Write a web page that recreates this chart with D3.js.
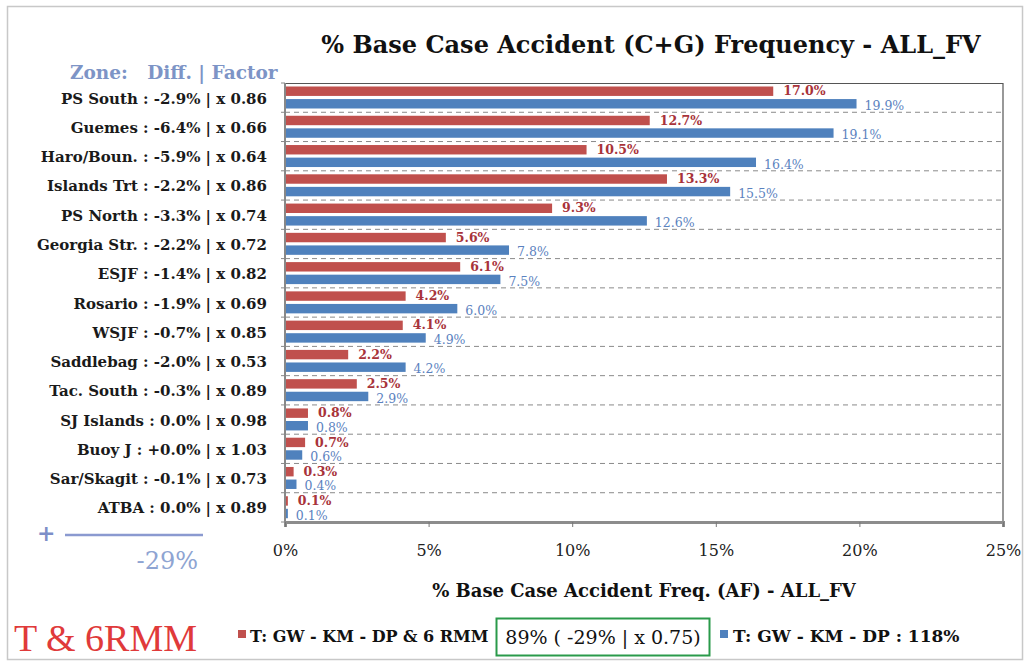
<!DOCTYPE html>
<meta charset="utf-8">
<style>
    body { margin: 0; background: #fff; }
    text { font-family: "DejaVu Serif", serif; }
</style>
<svg width="1030" height="664"></svg>
<script src="https://cdn.jsdelivr.net/npm/d3@7"></script>
<script>

    // zones, diffs and factors make up the row labels
    var zones = ["PS South", "Guemes", "Haro/Boun.", "Islands Trt", "PS North", "Georgia Str.", "ESJF",
        "Rosario", "WSJF", "Saddlebag", "Tac. South", "SJ Islands", "Buoy J", "Sar/Skagit", "ATBA"];
    var diffs = ["-2.9%", "-6.4%", "-5.9%", "-2.2%", "-3.3%", "-2.2%", "-1.4%",
        "-1.9%", "-0.7%", "-2.0%", "-0.3%", "0.0%", "+0.0%", "-0.1%", "0.0%"];
    var factors = ["0.86", "0.66", "0.64", "0.86", "0.74", "0.72", "0.82",
        "0.69", "0.85", "0.53", "0.89", "0.98", "1.03", "0.73", "0.89"];

    // % base case accident frequency
    var withRmm = [17.0, 12.7, 10.5, 13.3, 9.3, 5.6, 6.1, 4.2, 4.1, 2.2, 2.5, 0.8, 0.7, 0.3, 0.1];
    var withoutRmm = [19.9, 19.1, 16.4, 15.5, 12.6, 7.8, 7.5, 6.0, 4.9, 4.2, 2.9, 0.8, 0.6, 0.4, 0.1];

    var xTicks = [0, 5, 10, 15, 20, 25];
    var seriesNames = ["T: GW - KM - DP & 6 RMM", "T: GW - KM - DP : 118%"];

    var red = "#c0504d", blue = "#4f81bd";

    var svg = d3.select("svg");

    // outer frame
    svg.append("rect")
        .attr("x", 7.5).attr("y", 6.5).attr("width", 1015).attr("height", 653)
        .attr("fill", "none").attr("stroke", "#c8c8c8").attr("stroke-width", 1.5);

    var x = d3.scaleLinear().domain([0, 25]).range([285, 1003]);
    var y = d3.scaleBand().domain(zones).range([83, 522]);
    var inner = d3.scaleBand().domain(["a", "b"]).range([3.5, 25.5]).paddingInner(0.25);

    // title
    svg.append("text")
        .attr("x", 651).attr("y", 53)
        .attr("text-anchor", "middle")
        .style("font-size", "24px").style("font-weight", "bold").attr("fill", "#111")
        .text("% Base Case Accident (C+G) Frequency - ALL_FV");

    svg.append("text")
        .attr("x", 70).attr("y", 79)
        .style("font-size", "18.5px").style("font-weight", "bold").attr("fill", "#7d94c6")
        .attr("xml:space", "preserve")
        .text("Zone:   Diff. | Factor");

    // dashed row separators
    var bounds = zones.map(function(z) { return y(z) + y.bandwidth(); });
    svg.append("g").selectAll("line")
        .data(bounds.slice(0, -1))
        .enter().append("line")
        .attr("x1", x(0)).attr("x2", x(25))
        .attr("y1", function(d) { return d; }).attr("y2", function(d) { return d; })
        .attr("stroke", "#8a8a8a").attr("stroke-dasharray", "5,4").attr("stroke-width", 1);

    // small ticks on left axis at the boundaries
    svg.append("g").selectAll("line")
        .data([83].concat(bounds))
        .enter().append("line")
        .attr("x1", x(0) - 4).attr("x2", x(0))
        .attr("y1", function(d) { return d; }).attr("y2", function(d) { return d; })
        .attr("stroke", "#888").attr("stroke-width", 1);

    // plot top/right border
    svg.append("path")
        .attr("d", "M" + x(0) + ",83.5H" + x(25) + "V522")
        .attr("fill", "none").attr("stroke", "#555").attr("stroke-width", 1.2);

    // bars
    var rows = zones.map(function(z, i) { return { zone: z, a: withRmm[i], b: withoutRmm[i] }; });

    var g = svg.append("g");
    g.selectAll(".barA").data(rows).enter().append("rect")
        .attr("x", x(0))
        .attr("y", function(d) { return y(d.zone) + inner("a"); })
        .attr("width", function(d) { return x(d.a) - x(0); })
        .attr("height", inner.bandwidth())
        .attr("fill", red);
    g.selectAll(".barB").data(rows).enter().append("rect")
        .attr("x", x(0))
        .attr("y", function(d) { return y(d.zone) + inner("b"); })
        .attr("width", function(d) { return x(d.b) - x(0); })
        .attr("height", inner.bandwidth())
        .attr("fill", blue);

    g.selectAll(".labA").data(rows).enter().append("text")
        .attr("x", function(d) { return x(d.a) + 10; })
        .attr("y", function(d) { return y(d.zone) + inner("a") + inner.bandwidth() / 2 + 4.1; })
        .style("font-size", "12.5px").style("font-weight", "bold").attr("fill", "#a8333a")
        .text(function(d) { return d.a.toFixed(1) + "%"; });
    g.selectAll(".labB").data(rows).enter().append("text")
        .attr("x", function(d) { return x(d.b) + 8; })
        .attr("y", function(d) { return y(d.zone) + inner("b") + inner.bandwidth() / 2 + 6.2; })
        .style("font-size", "12.5px").attr("fill", "#5b82c0")
        .text(function(d) { return d.b.toFixed(1) + "%"; });

    // row labels
    svg.append("g").selectAll("text")
        .data(zones)
        .enter().append("text")
        .attr("x", 267)
        .attr("y", function(d) { return y(d) + y.bandwidth() / 2 + 6; })
        .attr("text-anchor", "end")
        .style("font-size", "15px").style("font-weight", "bold").attr("fill", "#1a1a1a")
        .text(function(d, i) { return d + " : " + diffs[i] + " | x " + factors[i]; });

    // left axis line
    svg.append("line")
        .attr("x1", x(0)).attr("x2", x(0)).attr("y1", 83).attr("y2", 522)
        .attr("stroke", "#888").attr("stroke-width", 2);

    // bottom axis
    var xAxis = svg.append("g")
        .attr("transform", "translate(0,522)")
        .call(d3.axisBottom(x).tickValues(xTicks).tickFormat(function(d) { return d + "%"; })
            .tickSize(5).tickPadding(18));
    xAxis.select(".domain").attr("stroke", "#8c8c8c").attr("stroke-width", 3);
    xAxis.selectAll(".tick line").attr("stroke", "#777");
    xAxis.selectAll(".tick text")
        .style("font-family", "DejaVu Serif, serif").style("font-size", "16px").attr("fill", "#222");

    svg.append("text")
        .attr("x", 644).attr("y", 597)
        .attr("text-anchor", "middle")
        .style("font-size", "18px").style("font-weight", "bold").attr("fill", "#111")
        .text("% Base Case Accident Freq. (AF) - ALL_FV");

    // total change marker at the left
    svg.append("text")
        .attr("x", 37).attr("y", 541)
        .style("font-size", "22px").style("font-weight", "bold").attr("fill", "#7d8fc8")
        .text("+");
    svg.append("line")
        .attr("x1", 65).attr("x2", 203).attr("y1", 535).attr("y2", 535)
        .attr("stroke", "#8b9ad0").attr("stroke-width", 2.5);
    svg.append("text")
        .attr("x", 198).attr("y", 569)
        .attr("text-anchor", "end")
        .style("font-size", "24px").attr("fill", "#8ea4d2")
        .text("-29%");

    // bottom legend
    svg.append("text")
        .attr("x", 14).attr("y", 651)
        .style("font-family", "Liberation Serif, serif").style("font-size", "38px").attr("fill", "#e03a3a")
        .text("T & 6RMM");

    svg.append("rect").attr("x", 238).attr("y", 630).attr("width", 8).attr("height", 8).attr("fill", red);
    svg.append("text")
        .attr("x", 250).attr("y", 642)
        .style("font-size", "16px").style("font-weight", "bold").attr("fill", "#111")
        .text(seriesNames[0]);

    svg.append("rect")
        .attr("x", 496.5).attr("y", 618.5).attr("width", 213).attr("height", 37)
        .attr("fill", "none").attr("stroke", "#2a9a4a").attr("stroke-width", 2);
    svg.append("text")
        .attr("x", 603).attr("y", 644)
        .attr("text-anchor", "middle")
        .style("font-size", "19px").attr("fill", "#111")
        .text("89% ( -29% | x 0.75)");

    svg.append("rect").attr("x", 720).attr("y", 630).attr("width", 8).attr("height", 8).attr("fill", blue);
    svg.append("text")
        .attr("x", 733).attr("y", 642)
        .style("font-size", "17px").style("font-weight", "bold").attr("fill", "#111")
        .text(seriesNames[1]);

</script>
